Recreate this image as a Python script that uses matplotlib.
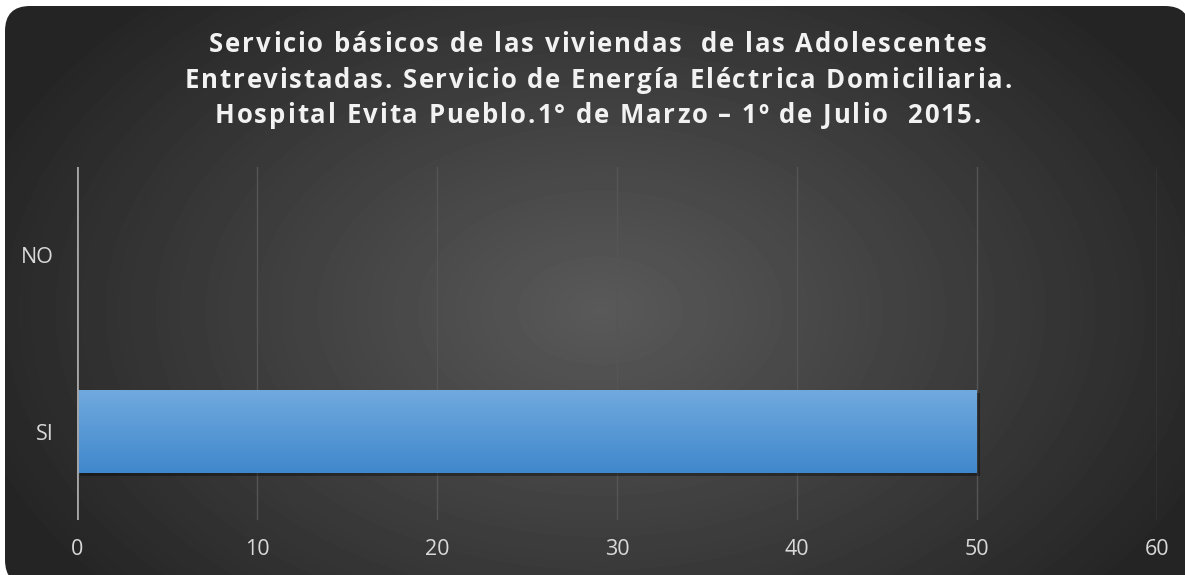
import matplotlib.pyplot as plt
import matplotlib.patheffects as pe
import numpy as np
from matplotlib.font_manager import FontProperties
from matplotlib.patches import FancyBboxPatch

# data
categories = ["SI", "NO"]
values = [50, 0]
x_ticks = [0, 10, 20, 30, 40, 50, 60]
title_lines = [
    "Servicio básicos de las viviendas  de las Adolescentes",
    "Entrevistadas. Servicio de Energía Eléctrica Domiciliaria.",
    "Hospital Evita Pueblo.1° de Marzo – 1º de Julio  2015.",
]

W, H = 1185, 575
fig = plt.figure(figsize=(W / 100, H / 100), dpi=100)
fig.patch.set_facecolor("white")

# dark panel with radial gradient and rounded corners
bg = fig.add_axes([0, 0, 1, 1])
bg.set_xlim(0, W)
bg.set_ylim(H, 0)
bg.axis("off")
yy, xx = np.mgrid[0:H, 0:W]
r = np.sqrt(((xx - 600) / 640.0) ** 2 + ((yy - 310) / 420.0) ** 2)
shade = np.clip(0.35 - 0.20 * r, 0.145, 0.35)
img = bg.imshow(shade, cmap="gray", vmin=0, vmax=1, extent=[0, W, H, 0],
                interpolation="bilinear")
panel = FancyBboxPatch((5 + 25, 6 + 25), W - 5 - 50 + 5, H - 6 - 50 + 10,
                       boxstyle="round,pad=25", transform=bg.transData,
                       facecolor="none", edgecolor="none")
bg.add_patch(panel)
img.set_clip_path(panel)

# main axes
ax = fig.add_axes([77 / W, 1 - 520 / H, 1080 / W, 353 / H])
ax.set_facecolor("none")
ax.set_xlim(0, 60)
ax.set_ylim(-0.5, 1.5)

bars = ax.barh(categories, values, height=0.47, color="#5097d9", zorder=3)
for b in bars:
    if b.get_width() <= 0:
        continue
    b.set_path_effects([pe.SimplePatchShadow(offset=(2, -2), alpha=0.35,
                                             shadow_rgbFace="black"),
                        pe.Normal()])
    x0, y0 = b.get_x(), b.get_y()
    x1, y1 = x0 + b.get_width(), y0 + b.get_height()
    grad = np.linspace(0, 1, 100).reshape(-1, 1)
    top = np.array([112, 169, 222]) / 255
    bot = np.array([64, 136, 204]) / 255
    cols = top + (bot - top) * grad[..., None]
    gi = ax.imshow(cols, extent=[x0, x1, y0, y1], origin="upper",
                   aspect="auto", zorder=4)
    gi.set_clip_path(b)

ax.set_xticks(x_ticks)
ax.grid(axis="x", color="#555555", linewidth=1, zorder=0)
ax.axvline(0, color="#a6a6a6", linewidth=2, zorder=5)
for s in ax.spines.values():
    s.set_visible(False)
ax.tick_params(length=0, colors="#d9d9d9", labelsize=15.5)
ax.tick_params(axis="x", pad=14)
ax.tick_params(axis="y", pad=17)
for lab in ax.get_xticklabels() + ax.get_yticklabels():
    lab.set_fontfamily("Open Sans")

# title with letter spacing (drawn char by char)
prop = FontProperties(family="Open Sans", weight="bold", size=18.5)
renderer = fig.canvas.get_renderer()


def text_w(s):
    return renderer.get_text_width_height_descent(s, prop, ismath=False)[0]


target_w = 827  # width of the longest title line in pixels
longest = max(title_lines, key=len)
spacing = (target_w - text_w(longest)) / (len(longest) - 1)
x_center = 598
for k, line in enumerate(title_lines):
    y_px = 52 + 35.5 * k
    total = text_w(line) + spacing * (len(line) - 1)
    x_start = x_center - total / 2
    ref = text_w("x")
    for i, ch in enumerate(line):
        if ch == " ":
            continue
        x_px = x_start + (text_w(line[:i] + "x") - ref if i else 0) + spacing * i
        fig.text(x_px / W, 1 - y_px / H, ch, ha="left", va="baseline",
                 color="#f2f2f2", fontproperties=prop)

fig.savefig("out.png", dpi=100, facecolor=fig.get_facecolor())
